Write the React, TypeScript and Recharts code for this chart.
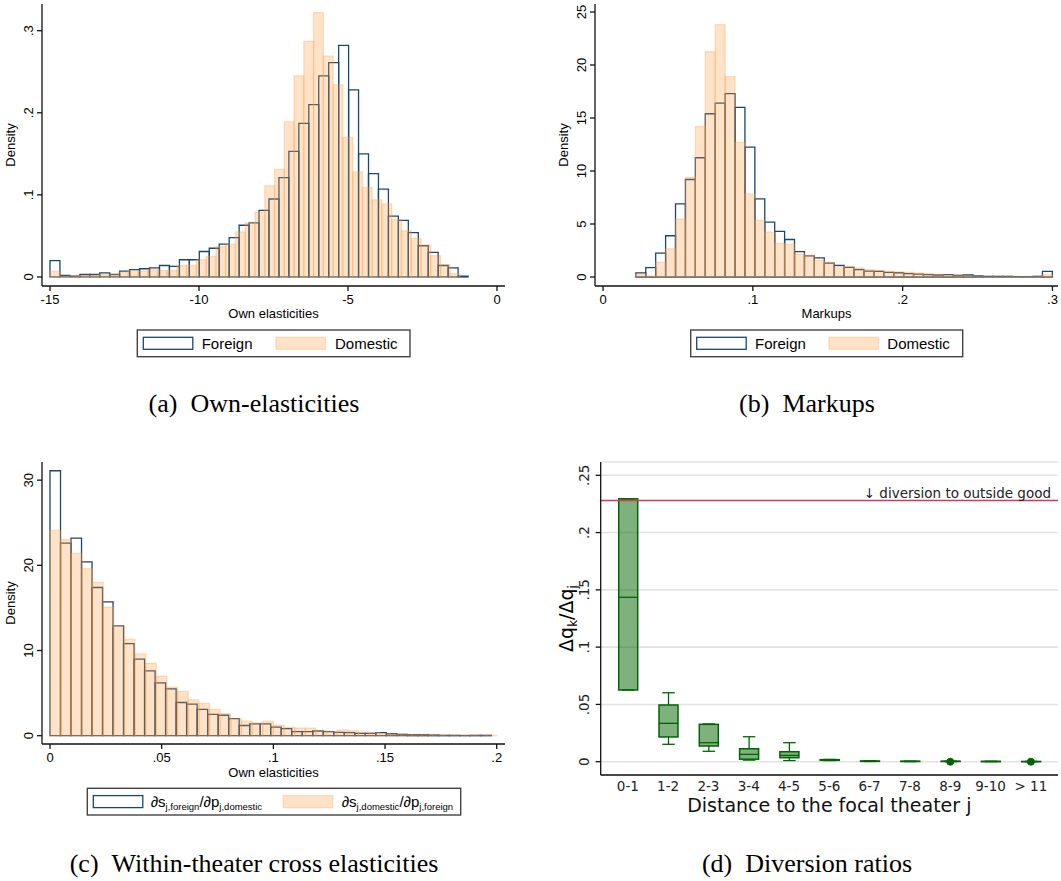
import React from 'react';
import {
  ComposedChart,
  XAxis,
  YAxis,
  ReferenceArea,
  ReferenceLine,
  Bar,
  Line,
  CartesianGrid,
} from 'recharts';

const NAVY = '#1a476f';
const ORANGE = '#ff9a3c';
const GREEN = '#006400';
const CRIMSON = '#d03a5c';
const SANS = '"Liberation Sans", Arial, Helvetica, sans-serif';
const DEJAVU = '"DejaVu Sans", Verdana, sans-serif';
const SERIF = '"Liberation Serif", "Times New Roman", serif';

// (a) own elasticities: densities per bin, 42 bins each
const aForeign = [
  0.02, 0.002, 0.001, 0.003, 0.003, 0.005, 0.003, 0.007, 0.009, 0.01,
  0.011, 0.014, 0.013, 0.021, 0.021, 0.031, 0.035, 0.04, 0.048, 0.063,
  0.066, 0.081, 0.095, 0.121, 0.153, 0.187, 0.21, 0.245, 0.261, 0.282,
  0.228, 0.15, 0.126, 0.107, 0.074, 0.069, 0.054, 0.038, 0.03, 0.014,
  0.011, 0.001,
];
const aDomestic = [
  0.007, 0.001, 0.001, 0.002, 0.002, 0.003, 0.003, 0.006, 0.008, 0.007,
  0.009, 0.008, 0.008, 0.014, 0.014, 0.021, 0.025, 0.037, 0.04, 0.055,
  0.066, 0.079, 0.111, 0.131, 0.189, 0.245, 0.287, 0.322, 0.269, 0.234,
  0.17, 0.128, 0.109, 0.094, 0.089, 0.07, 0.056, 0.047, 0.039, 0.026,
  0.015, 0.004,
];
const aForeignBin = { start: -15, width: 0.334 };
const aDomesticBin = { start: -15, width: 0.3276 };
const aXTicks = [-15, -10, -5, 0];
const aYTicks = [0, 0.1, 0.2, 0.3];

// (b) markups
const bForeign = [
  0.38, 0.88, 2.26, 3.89, 6.9, 9.2, 11.25, 15.4, 16.4, 17.3,
  16.0, 12.26, 7.37, 5.17, 4.3, 3.54, 2.4, 2.0, 1.8, 1.3,
  1.1, 0.9, 0.7, 0.56, 0.53, 0.44, 0.4, 0.31, 0.28, 0.22,
  0.19, 0.22, 0.16, 0.19, 0.1, 0.06, 0.06, 0.06, 0.03, 0.03,
  0.06, 0.53,
];
const bDomestic = [
  0.3, 0.1, 1.4, 2.66, 5.45, 9.4, 14.2, 21.25, 23.8, 18.9,
  12.7, 7.84, 5.36, 4.23, 3.17, 3.1, 2.16, 2.07, 1.57, 1.41,
  0.97, 1.0, 0.85, 0.69, 0.63, 0.53, 0.47, 0.44, 0.38, 0.31,
  0.25, 0.19, 0.19, 0.13, 0.06, 0.05, 0.05, 0.05, 0.04, 0.04,
  0.05, 0.22,
];
const bForeignBin = { start: 0.0219, width: 0.00662 };
const bDomesticBin = { start: 0.0219, width: 0.00662 };
const bXTicks = [0, 0.1, 0.2, 0.3];
const bYTicks = [0, 5, 10, 15, 20, 25];

// (c) within-theater cross elasticities
const cForeign = [
  31.1, 22.6, 23.2, 20.4, 17.4, 15.7, 12.9, 10.8, 9.0, 7.6,
  6.2, 5.5, 3.9, 3.7, 3.1, 2.5, 2.4, 2.0, 1.2, 1.4,
  1.4, 1.0, 0.82, 0.47, 0.47, 0.55, 0.47, 0.39, 0.35, 0.27,
  0.27, 0.35, 0.23, 0.16, 0.12, 0.12, 0.08, 0.04, 0.04, 0.02,
  0.04, 0.04,
];
const cDomestic = [
  24.1, 23.0, 21.4, 19.6, 18.0, 15.1, 12.9, 11.3, 9.6, 8.5,
  7.0, 5.7, 5.2, 4.2, 3.8, 3.1, 2.6, 2.0, 1.7, 1.5,
  1.7, 1.25, 0.98, 0.9, 0.9, 0.59, 0.47, 0.67, 0.59, 0.43,
  0.35, 0.27, 0.2, 0.16, 0.16, 0.12, 0.08, 0.04, 0.04, 0.06,
  0.04, 0.06,
];
const cForeignBin = { start: 0, width: 0.004705 };
const cDomesticBin = { start: 0, width: 0.004762 };
const cXTicks = [0, 0.05, 0.1, 0.15, 0.2];
const cYTicks = [0, 10, 20, 30];

// (d) diversion ratios by distance
const dCategories = ['0-1', '1-2', '2-3', '3-4', '4-5', '5-6', '6-7', '7-8', '8-9', '9-10', '> 11'];
const dWhiskerLow = [0.0626, 0.0152, 0.0091, 0.0014, 0.001, 0.001, 0.0002, 0.0001, 0.0001, 0.0001, 0.0];
const dQ1 = [0.0626, 0.0216, 0.0137, 0.0022, 0.0035, 0.0012, 0.0003, 0.0002, 0.0002, 0.0001, 0.0001];
const dMedian = [0.1435, 0.0335, 0.0166, 0.0064, 0.0055, 0.0015, 0.0004, 0.0003, 0.0003, 0.0002, 0.0001];
const dQ3 = [0.2295, 0.0495, 0.0326, 0.0113, 0.0087, 0.0018, 0.0006, 0.0004, 0.0004, 0.0003, 0.0002];
const dWhiskerHigh = [0.2295, 0.0602, 0.033, 0.0218, 0.0166, 0.002, 0.0008, 0.0005, 0.0005, 0.0004, 0.0003];
const dOutliers = [null, null, null, null, null, null, null, null, 0, null, 0];
const dOutsideGood = 0.228;
const dYTicks = [0, 0.05, 0.1, 0.15, 0.2, 0.25];

const boxData = dCategories.map((cat, i) => ({
  cat,
  wlo: dWhiskerLow[i],
  q1: dQ1[i],
  med: dMedian[i],
  q3: dQ3[i],
  whi: dWhiskerHigh[i],
  out: dOutliers[i],
}));

const fmt = (v: number) => (v === 0 ? '0' : String(v).replace('0.', '.'));

const AXIS = { stroke: '#111', strokeWidth: 1.3 };
const FRAME = { stroke: '#333', strokeWidth: 1.2 };

const HistXTick = (p: any) => (
  <text x={p.x} y={p.y + 9.3} textAnchor="middle" fontFamily={SANS} fontSize={13} fill="#000">
    {fmt(p.payload.value)}
  </text>
);

const HistYTick = (p: any) => (
  <text
    x={p.x}
    y={p.y}
    transform={`rotate(-90 ${p.x} ${p.y})`}
    textAnchor="middle"
    fontFamily={SANS}
    fontSize={13}
    fill="#000"
  >
    {fmt(p.payload.value)}
  </text>
);

type Bin = { start: number; width: number };

function Hist(props: {
  left: number;
  top: number;
  width: number;
  yAxisWidth: number;
  marginRight: number;
  xDomain: [number, number];
  yDomain: [number, number];
  xTicks: number[];
  yTicks: number[];
  foreign: number[];
  foreignBin: Bin;
  domestic: number[];
  domesticBin: Bin;
}) {
  const { foreign, foreignBin: fb, domestic, domesticBin: db } = props;
  // one row per foreign bin (centre, density) so the axes have data to work with
  const rows = foreign.map((v, i) => ({ x: fb.start + (i + 0.5) * fb.width, f: v }));
  return (
    <div style={{ position: 'absolute', left: props.left, top: props.top }}>
      <ComposedChart
        width={props.width}
        height={320}
        data={rows}
        margin={{ top: 4, right: props.marginRight, left: 0, bottom: 0 }}
      >
        <XAxis
          dataKey="x"
          type="number"
          domain={props.xDomain}
          allowDataOverflow
          ticks={props.xTicks}
          interval={0}
          height={34}
          tickSize={5}
          tickMargin={4}
          tick={HistXTick}
          axisLine={AXIS}
          tickLine={AXIS}
        />
        <YAxis
          type="number"
          domain={props.yDomain}
          allowDataOverflow
          ticks={props.yTicks}
          interval={0}
          width={props.yAxisWidth}
          tickSize={5}
          tickMargin={3.5}
          tick={HistYTick}
          axisLine={AXIS}
          tickLine={AXIS}
        />
        <XAxis
          xAxisId="top"
          orientation="top"
          dataKey="x"
          type="number"
          domain={props.xDomain}
          allowDataOverflow
          height={0}
          tick={false}
          tickLine={false}
          axisLine={FRAME}
        />
        <YAxis
          yAxisId="right"
          orientation="right"
          type="number"
          domain={props.yDomain}
          allowDataOverflow
          width={0}
          tick={false}
          tickLine={false}
          axisLine={FRAME}
        />
        <Line dataKey="f" stroke="none" dot={false} activeDot={false} isAnimationActive={false} />
        <Line
          dataKey="f"
          xAxisId="top"
          yAxisId="right"
          stroke="none"
          dot={false}
          activeDot={false}
          isAnimationActive={false}
        />
        {foreign.map((v, i) => (
          <ReferenceArea
            key={'f' + i}
            x1={fb.start + i * fb.width}
            x2={fb.start + (i + 1) * fb.width}
            y1={0}
            y2={v}
            fill="none"
            fillOpacity={0}
            stroke={NAVY}
            strokeWidth={1.3}
            ifOverflow="visible"
          />
        ))}
        {domestic.map((v, i) => (
          <ReferenceArea
            key={'d' + i}
            x1={db.start + i * db.width}
            x2={db.start + (i + 1) * db.width}
            y1={0}
            y2={v}
            fill={ORANGE}
            fillOpacity={0.28}
            stroke={ORANGE}
            strokeOpacity={0.3}
            strokeWidth={1.3}
            ifOverflow="visible"
          />
        ))}
      </ComposedChart>
    </div>
  );
}

const DTickX = (p: any) => (
  <text x={p.x} y={p.y + 9.7} textAnchor="middle" fontFamily={DEJAVU} fontSize={13.5} fill="#222">
    {p.payload.value}
  </text>
);

const DTickY = (p: any) => (
  <text
    x={p.x}
    y={p.y}
    transform={`rotate(-90 ${p.x} ${p.y})`}
    textAnchor="middle"
    fontFamily={DEJAVU}
    fontSize={13.5}
    fill="#222"
  >
    {fmt(p.payload.value)}
  </text>
);

const UpperWhisker = (p: any) => {
  const { x, y, width, height } = p;
  const cx = x + width / 2;
  const half = width * 0.33;
  const top = Math.min(y, y + height);
  const bot = Math.max(y, y + height);
  return (
    <g stroke={GREEN} strokeWidth={1.3} fill="none">
      <line x1={cx} y1={top} x2={cx} y2={bot} />
      <line x1={cx - half} y1={top} x2={cx + half} y2={top} />
    </g>
  );
};

const LowerWhisker = (p: any) => {
  const { x, y, width, height } = p;
  const cx = x + width / 2;
  const half = width * 0.33;
  const top = Math.min(y, y + height);
  const bot = Math.max(y, y + height);
  return (
    <g stroke={GREEN} strokeWidth={1.3} fill="none">
      <line x1={cx} y1={top} x2={cx} y2={bot} />
      <line x1={cx - half} y1={bot} x2={cx + half} y2={bot} />
    </g>
  );
};

const BoxShape = (p: any) => {
  const { x, y, width, height } = p;
  const top = Math.min(y, y + height);
  return (
    <rect
      x={x}
      y={top}
      width={width}
      height={Math.abs(height)}
      fill={GREEN}
      fillOpacity={0.5}
      stroke={GREEN}
      strokeWidth={1.5}
    />
  );
};

const MedianShape = (p: any) => (
  <line x1={p.x} x2={p.x + p.width} y1={p.y} y2={p.y} stroke={GREEN} strokeWidth={1.3} />
);

const OutsideLabel = (p: any) => {
  const vb = p.viewBox;
  if (!vb) return null;
  return (
    <text x={vb.x + vb.width - 7} y={vb.y - 2.5} textAnchor="end" fontFamily={DEJAVU} fontSize={13.5} fill="#222">
      ↓ diversion to outside good
    </text>
  );
};

function DiversionPanel() {
  const yDom: [number, number] = [-0.0116, 0.2616];
  return (
    <div style={{ position: 'absolute', left: 540, top: 458 }}>
      <ComposedChart
        width={520}
        height={357}
        data={boxData}
        margin={{ top: 4, right: 2, left: 0, bottom: 0 }}
        barGap={-19}
        barSize={19}
      >
        <CartesianGrid vertical={false} stroke="#e3e3e3" strokeWidth={1.6} />
        <XAxis
          dataKey="cat"
          type="category"
          padding={{ left: 7, right: 7 }}
          interval={0}
          height={40}
          tickLine={false}
          tickSize={0}
          tickMargin={6}
          tick={DTickX}
          axisLine={AXIS}
        />
        <YAxis
          type="number"
          domain={yDom}
          allowDataOverflow
          ticks={dYTicks}
          interval={0}
          width={60.7}
          tickSize={5}
          tickMargin={7}
          tick={DTickY}
          axisLine={AXIS}
          tickLine={AXIS}
        />
        <XAxis
          xAxisId="top"
          orientation="top"
          dataKey="cat"
          type="category"
          height={0}
          tick={false}
          tickLine={false}
          axisLine={AXIS}
        />
        <YAxis
          yAxisId="right"
          orientation="right"
          type="number"
          domain={yDom}
          allowDataOverflow
          width={0}
          tick={false}
          tickLine={false}
          axisLine={AXIS}
        />
        <ReferenceLine y={dOutsideGood} stroke={CRIMSON} strokeWidth={1.6} label={OutsideLabel} />
        <Bar dataKey={(d: any) => [d.q3, d.whi]} shape={UpperWhisker} barSize={19} isAnimationActive={false} />
        <Bar dataKey={(d: any) => [d.wlo, d.q1]} shape={LowerWhisker} barSize={19} isAnimationActive={false} />
        <Bar dataKey={(d: any) => [d.q1, d.q3]} shape={BoxShape} barSize={19} isAnimationActive={false} />
        <Bar dataKey={(d: any) => [d.med, d.med]} shape={MedianShape} barSize={19} isAnimationActive={false} />
        <Line
          dataKey="out"
          stroke="none"
          dot={{ r: 3.5, fill: GREEN, stroke: GREEN }}
          activeDot={false}
          isAnimationActive={false}
        />
      </ComposedChart>
    </div>
  );
}

function LegendBox(props: {
  x: number;
  y: number;
  w: number;
  sw1: number;
  t1: number;
  sw2: number;
  t2: number;
  label1: React.ReactNode;
  label2: React.ReactNode;
}) {
  const { x, y, w } = props;
  const swY = y + 7.3;
  return (
    <g>
      <rect x={x} y={y} width={w} height={26.7} fill="#fff" stroke="#444" strokeWidth={1.4} />
      <rect x={props.sw1} y={swY} width={49.5} height={12} fill="#fff" stroke={NAVY} strokeWidth={1.3} />
      <rect
        x={props.sw2}
        y={swY}
        width={49.5}
        height={12}
        fill={ORANGE}
        fillOpacity={0.28}
        stroke={ORANGE}
        strokeOpacity={0.3}
        strokeWidth={1.3}
      />
      <text x={props.t1} y={y + 19} fontFamily={SANS} fontSize={15} fill="#000">
        {props.label1}
      </text>
      <text x={props.t2} y={y + 19} fontFamily={SANS} fontSize={15} fill="#000">
        {props.label2}
      </text>
    </g>
  );
}

const Rot = ({ x, y, children, family, size }: any) => (
  <text
    x={x}
    y={y}
    transform={`rotate(-90 ${x} ${y})`}
    textAnchor="middle"
    fontFamily={family}
    fontSize={size}
    fill="#000"
  >
    {children}
  </text>
);

export default function App() {
  return (
    <div style={{ position: 'absolute', left: 0, top: 0, width: 1061, height: 881, background: '#fff' }}>
      <Hist
        left={0}
        top={0}
        width={510}
        yAxisWidth={42}
        marginRight={5}
        xDomain={[-15.268, 0.268]}
        yDomain={[-0.011, 0.3325]}
        xTicks={aXTicks}
        yTicks={aYTicks}
        foreign={aForeign}
        foreignBin={aForeignBin}
        domestic={aDomestic}
        domesticBin={aDomesticBin}
      />
      <Hist
        left={550}
        top={0}
        width={510}
        yAxisWidth={45}
        marginRight={2}
        xDomain={[-0.00537, 0.3037]}
        yDomain={[-0.849, 25.755]}
        xTicks={bXTicks}
        yTicks={bYTicks}
        foreign={bForeign}
        foreignBin={bForeignBin}
        domestic={bDomestic}
        domesticBin={bDomesticBin}
      />
      <Hist
        left={0}
        top={458}
        width={510}
        yAxisWidth={42}
        marginRight={5}
        xDomain={[-0.00358, 0.2037]}
        yDomain={[-0.974, 32.13]}
        xTicks={cXTicks}
        yTicks={cYTicks}
        foreign={cForeign}
        foreignBin={cForeignBin}
        domestic={cDomestic}
        domesticBin={cDomesticBin}
      />
      <DiversionPanel />

      <svg
        width={1061}
        height={881}
        style={{ position: 'absolute', left: 0, top: 0, pointerEvents: 'none' }}
      >
        {/* axis titles */}
        <Rot x={14.5} y={145} family={SANS} size={13}>Density</Rot>
        <Rot x={568} y={145} family={SANS} size={13}>Density</Rot>
        <Rot x={14.5} y={603} family={SANS} size={13}>Density</Rot>
        <text x={273.5} y={317.5} textAnchor="middle" fontFamily={SANS} fontSize={13}>Own elasticities</text>
        <text x={826.5} y={317.5} textAnchor="middle" fontFamily={SANS} fontSize={13}>Markups</text>
        <text x={273.5} y={777} textAnchor="middle" fontFamily={SANS} fontSize={13}>Own elasticities</text>
        <text x={829.3} y={812.3} textAnchor="middle" fontFamily={DEJAVU} fontSize={19} fill="#111">
          Distance to the focal theater j
        </text>
        <Rot x={572.5} y={618.5} family={DEJAVU} size={19}>
          Δq<tspan fontSize={12} dy={4}>k</tspan>
          <tspan dy={-4}>/Δq</tspan>
          <tspan fontSize={12} dy={4}>j</tspan>
        </Rot>

        {/* legends */}
        <LegendBox x={137.3} y={330} w={272.7} sw1={143.3} t1={201.7} sw2={276} t2={335} label1="Foreign" label2="Domestic" />
        <LegendBox x={690.7} y={330} w={272} sw1={696.7} t1={755} sw2={829} t2={887.3} label1="Foreign" label2="Domestic" />
        <LegendBox
          x={87.3}
          y={788.3}
          w={373.4}
          sw1={93.3}
          t1={150.7}
          sw2={283.3}
          t2={341.7}
          label1={
            <>
              ∂s<tspan fontSize={9.5} dy={2.5}>j,foreign</tspan>
              <tspan dy={-2.5}>/∂p</tspan>
              <tspan fontSize={9.5} dy={2.5}>j,domestic</tspan>
            </>
          }
          label2={
            <>
              ∂s<tspan fontSize={9.5} dy={2.5}>j,domestic</tspan>
              <tspan dy={-2.5}>/∂p</tspan>
              <tspan fontSize={9.5} dy={2.5}>j,foreign</tspan>
            </>
          }
        />

        {/* captions */}
        <text x={254} y={411.5} textAnchor="middle" fontFamily={SERIF} fontSize={26}>
          (a)<tspan dx={13}>Own-elasticities</tspan>
        </text>
        <text x={807} y={411.5} textAnchor="middle" fontFamily={SERIF} fontSize={26}>
          (b)<tspan dx={13}>Markups</tspan>
        </text>
        <text x={254} y={871.7} textAnchor="middle" fontFamily={SERIF} fontSize={26}>
          (c)<tspan dx={13}>Within-theater cross elasticities</tspan>
        </text>
        <text x={807} y={871.7} textAnchor="middle" fontFamily={SERIF} fontSize={26}>
          (d)<tspan dx={13}>Diversion ratios</tspan>
        </text>
      </svg>
    </div>
  );
}
